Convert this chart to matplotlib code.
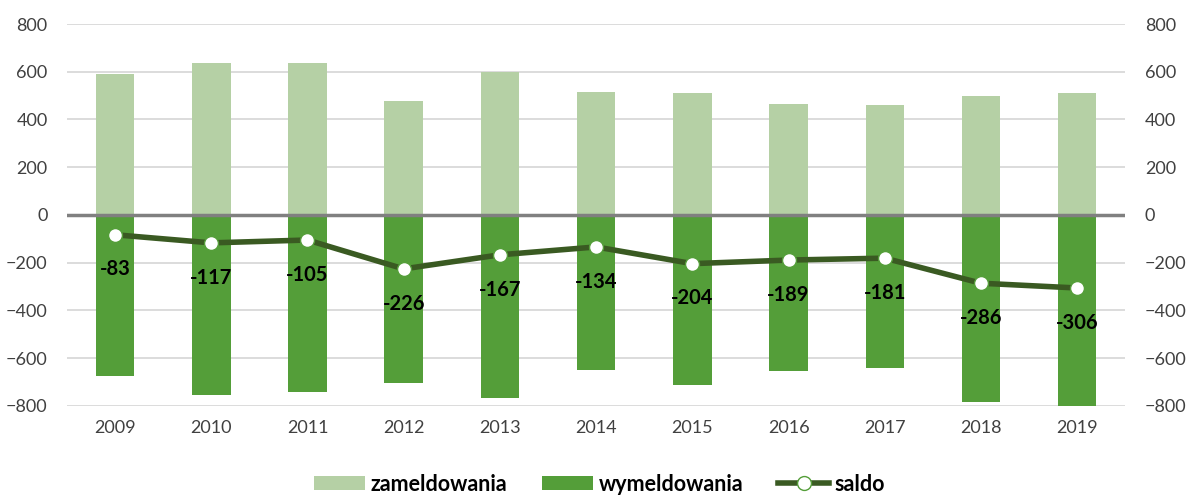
import matplotlib
matplotlib.use("Agg")
import matplotlib.pyplot as plt
from matplotlib.lines import Line2D
from matplotlib.patches import Patch

years = ["2009", "2010", "2011", "2012", "2013", "2014", "2015", "2016", "2017", "2018", "2019"]
zameldowania = [592, 636, 636, 476, 598, 514, 510, 463, 460, 498, 510]
wymeldowania = [-675, -753, -741, -702, -765, -648, -714, -652, -641, -784, -816]
saldo = [-83, -117, -105, -226, -167, -134, -204, -189, -181, -286, -306]
yticks = [-800, -600, -400, -200, 0, 200, 400, 600, 800]

plt.rcParams['font.family'] = ['Lato', 'DejaVu Sans']

fig = plt.figure(figsize=(11.87, 4.95), dpi=100)
ax = fig.add_axes([0.0564, 0.18, 0.8916, 0.7715])

x = list(range(len(years)))
c_light = "#b5d0a5"
c_dark = "#549e39"
c_line = "#3a5a22"

ax.set_ylim(-800, 800)
ax.set_xlim(-0.5, len(years) - 0.5)
for t in yticks:
    if t != 0:
        ax.axhline(t, color="#d9d9d9", lw=1.3, zorder=0)

ax.bar(x, zameldowania, width=0.4, color=c_light, zorder=2)
ax.bar(x, wymeldowania, width=0.4, color=c_dark, zorder=2)
ax.axhline(0, color="#808080", lw=2.5, zorder=3)
ax.plot(x, saldo, color=c_line, lw=4, marker="o", markersize=10,
        markerfacecolor="white", markeredgecolor=c_dark, markeredgewidth=1, zorder=5)
for xi, v in zip(x, saldo):
    ax.annotate(str(v), (xi, v), xytext=(0, -25), textcoords="offset points",
                ha="center", va="center", fontsize=14.5, fontweight="bold", color="black", zorder=6)

ax.set_yticks(yticks)
ax.set_xticks(x)
ax.set_xticklabels(years)
ax.tick_params(axis="both", length=0, labelsize=13, colors="#404040")
ax.tick_params(axis="y", pad=14)
ax.tick_params(axis="x", pad=10)
for s in ax.spines.values():
    s.set_visible(False)

ax2 = ax.twinx()
ax2.set_ylim(-800, 800)
ax2.set_yticks(yticks)
ax2.tick_params(axis="y", length=0, labelsize=13, colors="#404040", pad=14)
for s in ax2.spines.values():
    s.set_visible(False)

handles = [Patch(facecolor=c_light, label="zameldowania"),
           Patch(facecolor=c_dark, label="wymeldowania"),
           Line2D([0], [0], color=c_line, lw=4, marker="o", markersize=10,
                  markerfacecolor="white", markeredgecolor=c_dark, label="saldo")]
fig.legend(handles=handles, loc="center", bbox_to_anchor=(0.505, 0.022), ncol=3, frameon=False,
           prop={"size": 15.5, "weight": "bold"}, handlelength=2.4, handleheight=0.6,
           columnspacing=1.6, handletextpad=0.25)

fig.savefig("out.png", dpi=100)
